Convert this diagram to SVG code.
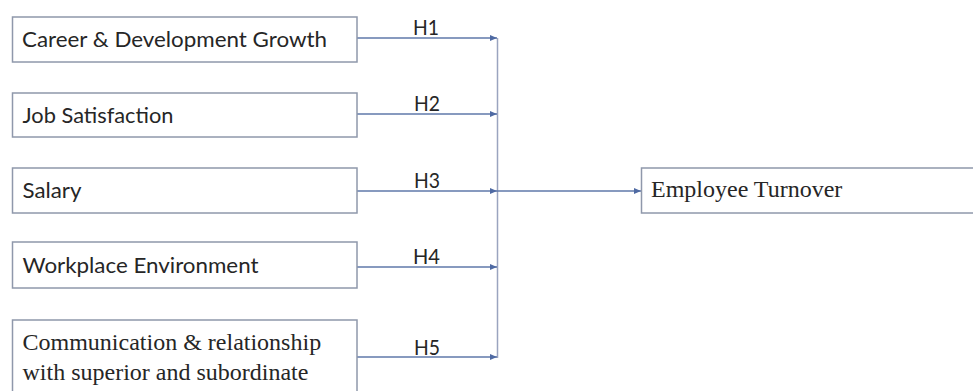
<svg xmlns="http://www.w3.org/2000/svg" width="973" height="391" viewBox="0 0 973 391">
<style>
.box{fill:#ffffff;stroke:#8f98ab;stroke-width:1.5}
.sans{font-family:Lato,"Liberation Sans",Arial,sans-serif;font-size:22px;fill:#262626}
.serif{font-family:"Liberation Serif","Times New Roman",serif;font-size:24px;fill:#262626}
.conn{stroke:#5f78aa;stroke-width:1.5;fill:none}
.bus{stroke:#9aa4bf;stroke-width:1.5;fill:none}
</style>
<defs>
<marker id="arr" markerWidth="8" markerHeight="6" refX="7" refY="3" orient="auto" markerUnits="userSpaceOnUse">
<path d="M0,0 L7,3 L0,6 Z" fill="#4f6aa3"/>
</marker>
</defs>
<rect width="973" height="391" fill="#ffffff"/>
<g id="connectors">
<line class="bus" x1="497.5" y1="38" x2="497.5" y2="358"/>
<line class="conn" x1="357" y1="38" x2="497" y2="38" marker-end="url(#arr)"/>
<line class="conn" x1="357" y1="114" x2="497" y2="114" marker-end="url(#arr)"/>
<line class="conn" x1="357" y1="191" x2="497" y2="191" marker-end="url(#arr)"/>
<line class="conn" x1="357" y1="267" x2="497" y2="267" marker-end="url(#arr)"/>
<line class="conn" x1="357" y1="357" x2="497" y2="357" marker-end="url(#arr)"/>
<line class="conn" x1="497" y1="191" x2="641" y2="191" marker-end="url(#arr)"/>
<text class="sans" x="413" y="35" textLength="26" lengthAdjust="spacingAndGlyphs">H1</text>
<text class="sans" x="414" y="111" textLength="26" lengthAdjust="spacingAndGlyphs">H2</text>
<text class="sans" x="414" y="188" textLength="26" lengthAdjust="spacingAndGlyphs">H3</text>
<text class="sans" x="413" y="264" textLength="27" lengthAdjust="spacingAndGlyphs">H4</text>
<text class="sans" x="414" y="355" textLength="26" lengthAdjust="spacingAndGlyphs">H5</text>
</g>
<g id="career">
<rect class="box" x="12.5" y="17" width="344.5" height="45"/>
<text class="sans" x="22" y="47" textLength="305" lengthAdjust="spacingAndGlyphs">Career &amp; Development Growth</text>
</g>
<g id="job">
<rect class="box" x="12.5" y="93" width="344.5" height="44"/>
<text class="sans" x="22.5" y="123" textLength="151" lengthAdjust="spacingAndGlyphs">Job Satisfaction</text>
</g>
<g id="salary">
<rect class="box" x="12.5" y="168" width="344.5" height="45"/>
<text class="sans" x="22.5" y="198" textLength="59" lengthAdjust="spacingAndGlyphs">Salary</text>
</g>
<g id="workplace">
<rect class="box" x="12.5" y="242" width="344.5" height="46"/>
<text class="sans" x="22.5" y="273" textLength="236" lengthAdjust="spacingAndGlyphs">Workplace Environment</text>
</g>
<g id="communication">
<rect class="box" x="12.5" y="320" width="344.5" height="80"/>
<text class="serif" x="22.5" y="350">Communication &amp; relationship</text>
<text class="serif" x="22.5" y="380">with superior and subordinate</text>
</g>
<g id="turnover">
<rect class="box" x="641.5" y="168" width="340" height="45"/>
<text class="serif" x="651" y="197">Employee Turnover</text>
</g>
</svg>
